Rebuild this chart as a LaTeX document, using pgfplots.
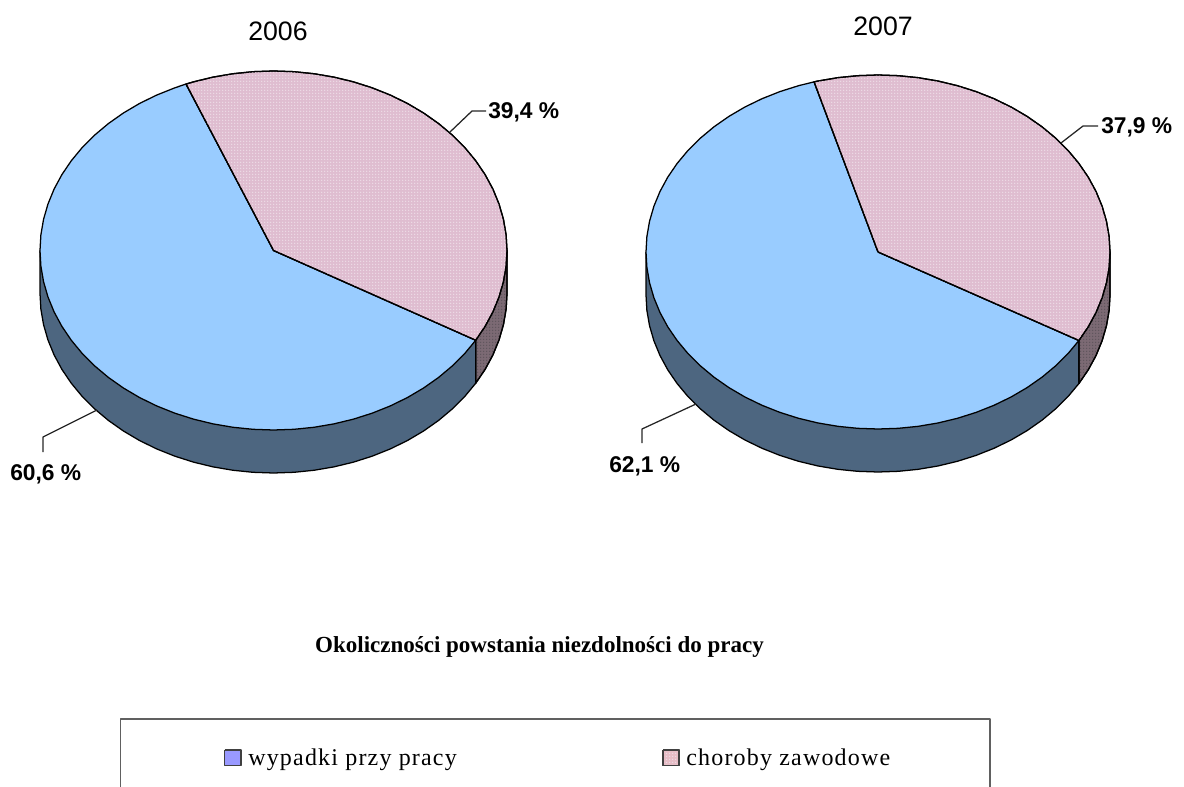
\documentclass[border=0pt]{standalone}
\usepackage{fontspec}
\usepackage{pgfplots}
\pgfplotsset{compat=1.18}
\usepackage{pgfplotstable}
\usetikzlibrary{patterns}
\setmainfont{Liberation Serif}
\newfontfamily\arial{Liberation Sans}
\definecolor{bluetop}{HTML}{99CCFF}
\definecolor{bluewall}{HTML}{4D6680}
\definecolor{pinkbase}{HTML}{DFBDD0}
\definecolor{pinkdot}{HTML}{EEDCE7}
\definecolor{wallbase}{HTML}{7C6A74}
\definecolor{walldot}{HTML}{5F545C}
\definecolor{legblue}{HTML}{9999FF}
\definecolor{legpink}{HTML}{E6BDC6}
\definecolor{boxgray}{HTML}{606060}
\pgfdeclarepatternformonly{fined}{\pgfqpoint{-1pt}{-1pt}}{\pgfqpoint{2pt}{2pt}}{\pgfqpoint{2.25pt}{2.25pt}}{\pgfpathcircle{\pgfqpoint{0.5pt}{0.5pt}}{0.55pt}\pgfusepath{fill}}
% slices in unit-ellipse coordinates
\pgfplotstableread{
x y
0 0
-.3746 .9272
-.4226 .9063
-.5 .866
-.5736 .8192
-.6428 .766
-.7071 .7071
-.766 .6428
-.8192 .5736
-.866 .5
-.9063 .4226
-.9397 .342
-.9659 .2588
-.9848 .1736
-.9962 .0872
-1 0
-.9962 -.0872
-.9848 -.1736
-.9659 -.2588
-.9397 -.342
-.9063 -.4226
-.866 -.5
-.8192 -.5736
-.766 -.6428
-.7071 -.7071
-.6428 -.766
-.5736 -.8192
-.5 -.866
-.4226 -.9063
-.342 -.9397
-.2588 -.9659
-.1736 -.9848
-.0872 -.9962
0 -1
.0872 -.9962
.1736 -.9848
.2588 -.9659
.342 -.9397
.4226 -.9063
.5 -.866
.5736 -.8192
.6428 -.766
.7071 -.7071
.766 -.6428
.8192 -.5736
.866 -.5
0 0
}\blueA
\pgfplotstableread{
x y
0 0
-.2756 .9613
-.342 .9397
-.4226 .9063
-.5 .866
-.5736 .8192
-.6428 .766
-.7071 .7071
-.766 .6428
-.8192 .5736
-.866 .5
-.9063 .4226
-.9397 .342
-.9659 .2588
-.9848 .1736
-.9962 .0872
-1 0
-.9962 -.0872
-.9848 -.1736
-.9659 -.2588
-.9397 -.342
-.9063 -.4226
-.866 -.5
-.8192 -.5736
-.766 -.6428
-.7071 -.7071
-.6428 -.766
-.5736 -.8192
-.5 -.866
-.4226 -.9063
-.342 -.9397
-.2588 -.9659
-.1736 -.9848
-.0872 -.9962
0 -1
.0872 -.9962
.1736 -.9848
.2588 -.9659
.342 -.9397
.4226 -.9063
.5 -.866
.5736 -.8192
.6428 -.766
.7071 -.7071
.766 -.6428
.8192 -.5736
.866 -.5
0 0
}\blueB
\pgfplotstableread{
x y
0 0
.866 -.5
.9063 -.4226
.9397 -.342
.9659 -.2588
.9848 -.1736
.9962 -.0872
1 0
.9962 .0872
.9848 .1736
.9659 .2588
.9397 .342
.9063 .4226
.866 .5
.8192 .5736
.766 .6428
.7071 .7071
.6428 .766
.5736 .8192
.5 .866
.4226 .9063
.342 .9397
.2588 .9659
.1736 .9848
.0872 .9962
0 1
-.0872 .9962
-.1736 .9848
-.2588 .9659
-.342 .9397
-.3746 .9272
0 0
}\pinkA
\pgfplotstableread{
x y
0 0
.866 -.5
.9063 -.4226
.9397 -.342
.9659 -.2588
.9848 -.1736
.9962 -.0872
1 0
.9962 .0872
.9848 .1736
.9659 .2588
.9397 .342
.9063 .4226
.866 .5
.8192 .5736
.766 .6428
.7071 .7071
.6428 .766
.5736 .8192
.5 .866
.4226 .9063
.342 .9397
.2588 .9659
.1736 .9848
.0872 .9962
0 1
-.0872 .9962
-.1736 .9848
-.2588 .9659
-.2756 .9613
0 0
}\pinkB
% side walls: z=1 is the lower rim
\pgfplotstableread{
x y z
-1 0 0
-1 0 1
-.9962 -.0872 1
-.9848 -.1736 1
-.9659 -.2588 1
-.9397 -.342 1
-.9063 -.4226 1
-.866 -.5 1
-.8192 -.5736 1
-.766 -.6428 1
-.7071 -.7071 1
-.6428 -.766 1
-.5736 -.8192 1
-.5 -.866 1
-.4226 -.9063 1
-.342 -.9397 1
-.2588 -.9659 1
-.1736 -.9848 1
-.0872 -.9962 1
0 -1 1
.0872 -.9962 1
.1736 -.9848 1
.2588 -.9659 1
.342 -.9397 1
.4226 -.9063 1
.5 -.866 1
.5736 -.8192 1
.6428 -.766 1
.7071 -.7071 1
.766 -.6428 1
.8192 -.5736 1
.866 -.5 1
.866 -.5 0
-1 0 0
}\bluewalltab
\pgfplotstableread{
x y z
.866 -.5 0
.866 -.5 1
.9063 -.4226 1
.9397 -.342 1
.9659 -.2588 1
.9848 -.1736 1
.9962 -.0872 1
1 0 1
1 0 0
.866 -.5 0
}\pinkwalltab
\begin{document}
\begin{tikzpicture}
\useasboundingbox (0,0) rectangle (888pt,590.25pt);
\begin{axis}[
  at={(0,0)},anchor=south west,
  scale only axis,width=888pt,height=590.25pt,
  xmin=0,xmax=1184,ymin=0,ymax=787,y dir=reverse,
  enlargelimits=false,hide axis,clip=false,
  every axis plot/.append style={line join=round,line width=0.95pt},
]
% pie 2006
\addplot[draw=black,fill=bluewall] table[x expr=273.5+233.5*\thisrow{x},y expr=250.5-179.5*\thisrow{y}+43*\thisrow{z}] {\bluewalltab};
\addplot[draw=black,fill=wallbase,postaction={pattern=fined,pattern color=walldot}] table[x expr=273.5+233.5*\thisrow{x},y expr=250.5-179.5*\thisrow{y}+43*\thisrow{z}] {\pinkwalltab};
\addplot[draw=black,fill=bluetop] table[x expr=273.5+233.5*\thisrow{x},y expr=250.5-179.5*\thisrow{y}] {\blueA};
\addplot[draw=black,fill=pinkbase,postaction={pattern=fined,pattern color=pinkdot}] table[x expr=273.5+233.5*\thisrow{x},y expr=250.5-179.5*\thisrow{y}] {\pinkA};
% pie 2007
\addplot[draw=black,fill=bluewall] table[x expr=878+232*\thisrow{x},y expr=252-177*\thisrow{y}+43*\thisrow{z}] {\bluewalltab};
\addplot[draw=black,fill=wallbase,postaction={pattern=fined,pattern color=walldot}] table[x expr=878+232*\thisrow{x},y expr=252-177*\thisrow{y}+43*\thisrow{z}] {\pinkwalltab};
\addplot[draw=black,fill=bluetop] table[x expr=878+232*\thisrow{x},y expr=252-177*\thisrow{y}] {\blueB};
\addplot[draw=black,fill=pinkbase,postaction={pattern=fined,pattern color=pinkdot}] table[x expr=878+232*\thisrow{x},y expr=252-177*\thisrow{y}] {\pinkB};
% leaders
\addplot[draw=black!85] coordinates {(450,132) (472,111) (486,111)};
\addplot[draw=black!85] coordinates {(97,410) (43,437) (43,452)};
\addplot[draw=black!85] coordinates {(1061,143) (1083,126) (1098,126)};
\addplot[draw=black!85] coordinates {(696,404) (642,429) (642,443)};
% legend frame
\addplot[draw=boxgray] coordinates {(120.7,787) (120.7,719) (990,719) (990,787)};
\addplot[draw=black!75,fill=legblue] coordinates {(224.5,750) (241,750) (241,765.5) (224.5,765.5) (224.5,750)};
\addplot[draw=black!75,fill=legpink,postaction={pattern=fined,pattern color=pinkdot}] coordinates {(663,750) (679,750) (679,765.5) (663,765.5) (663,750)};
% texts
\node[anchor=center,inner sep=0pt] at (axis cs:278,31) {\arial\fontsize{20}{24}\selectfont 2006};
\node[anchor=center,inner sep=0pt] at (axis cs:883,26) {\arial\fontsize{20}{24}\selectfont 2007};
\node[anchor=west,inner sep=0pt] at (axis cs:488,112) {\arial\bfseries\fontsize{17.1}{20}\selectfont 39,4 \%};
\node[anchor=west,inner sep=0pt] at (axis cs:10,474) {\arial\bfseries\fontsize{17.1}{20}\selectfont 60,6 \%};
\node[anchor=west,inner sep=0pt] at (axis cs:1101,127) {\arial\bfseries\fontsize{17.1}{20}\selectfont 37,9 \%};
\node[anchor=west,inner sep=0pt] at (axis cs:609,466) {\arial\bfseries\fontsize{17.1}{20}\selectfont 62,1 \%};
\node[anchor=base,inner sep=0pt] at (axis cs:539.5,652) {\bfseries\fontsize{17.25}{20}\selectfont Okoliczności powstania niezdolności do pracy};
\node[anchor=base west,inner sep=0pt] at (axis cs:248,765) {\addfontfeature{LetterSpace=5}\fontsize{18}{22}\selectfont wypadki przy pracy};
\node[anchor=base west,inner sep=0pt] at (axis cs:686,765) {\addfontfeature{LetterSpace=5}\fontsize{18}{22}\selectfont choroby zawodowe};
\end{axis}
\end{tikzpicture}
\end{document}
